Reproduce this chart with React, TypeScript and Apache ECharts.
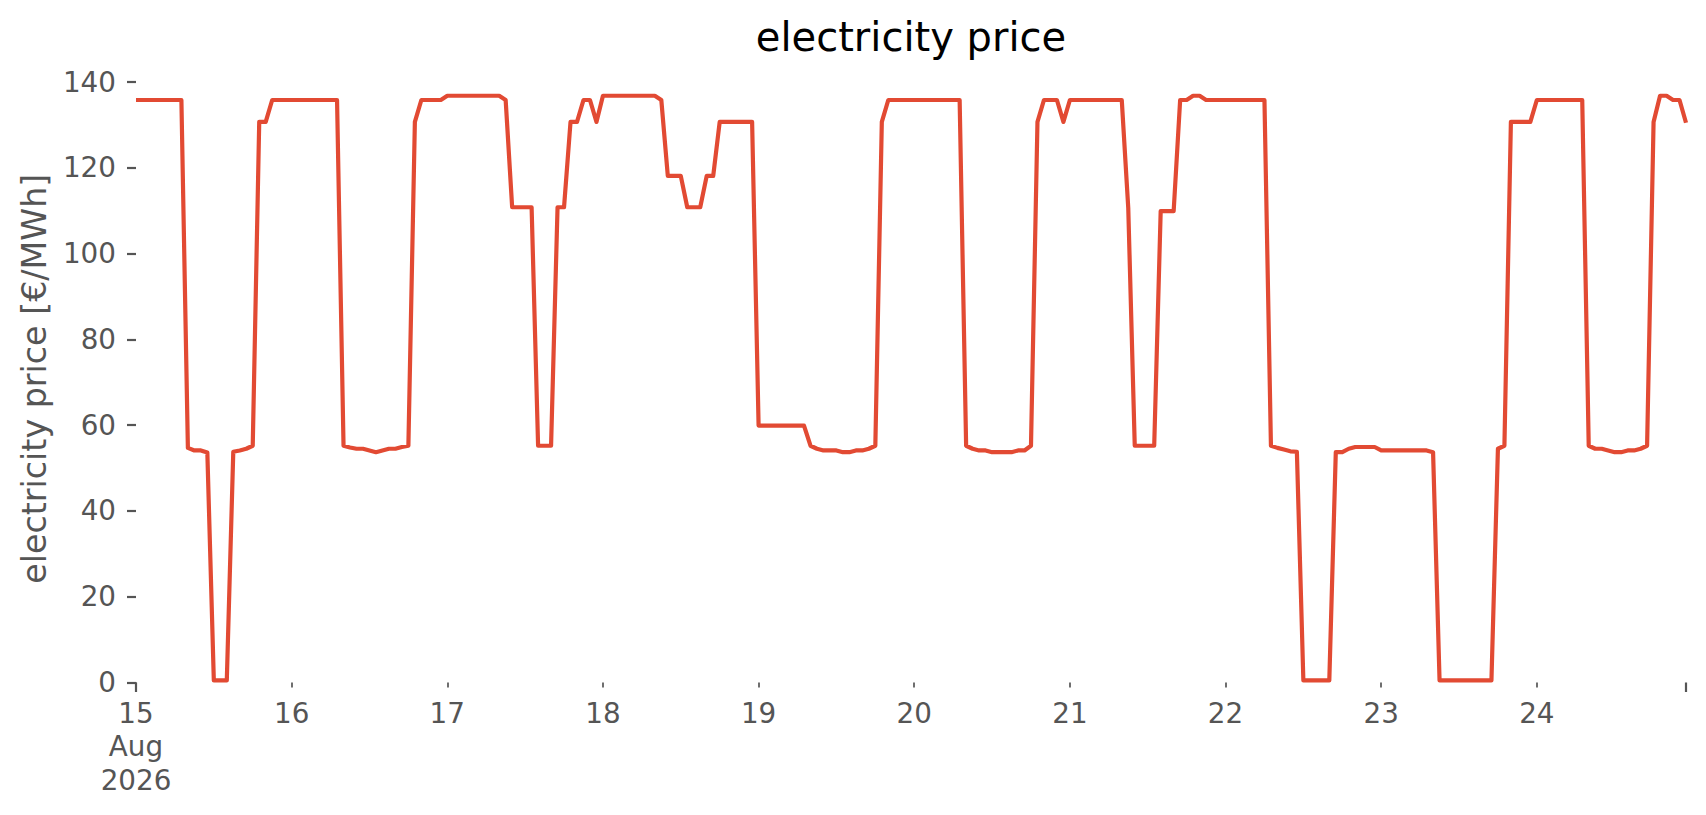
import React, { useEffect, useRef } from "react";
import * as echarts from "echarts";

// Hourly electricity price [€/MWh], one array per day (00:00 .. 23:00)
const aug15 = [135.8, 135.8, 135.8, 135.8, 135.8, 135.8, 135.8, 135.8, 54.7, 54.1, 54.1, 53.6, 0.5, 0.5, 0.5, 53.8, 54.1, 54.5, 55.2, 130.7, 130.7, 135.8, 135.8, 135.8];
const aug16 = [135.8, 135.8, 135.8, 135.8, 135.8, 135.8, 135.8, 135.8, 55.2, 54.8, 54.5, 54.5, 54.1, 53.7, 54.1, 54.5, 54.5, 54.9, 55.2, 130.7, 135.8, 135.8, 135.8, 135.8];
const aug17 = [136.8, 136.8, 136.8, 136.8, 136.8, 136.8, 136.8, 136.8, 136.8, 135.8, 110.8, 110.8, 110.8, 110.8, 55.2, 55.2, 55.2, 110.8, 110.8, 130.7, 130.7, 135.8, 135.8, 130.7];
const aug18 = [136.8, 136.8, 136.8, 136.8, 136.8, 136.8, 136.8, 136.8, 136.8, 135.8, 118.1, 118.1, 118.1, 110.8, 110.8, 110.8, 118.1, 118.1, 130.7, 130.7, 130.7, 130.7, 130.7, 130.7];
const aug19 = [59.9, 59.9, 59.9, 59.9, 59.9, 59.9, 59.9, 59.9, 55.2, 54.5, 54.1, 54.1, 54.1, 53.7, 53.7, 54.1, 54.1, 54.5, 55.2, 130.7, 135.8, 135.8, 135.8, 135.8];
const aug20 = [135.8, 135.8, 135.8, 135.8, 135.8, 135.8, 135.8, 135.8, 55.2, 54.5, 54.1, 54.1, 53.7, 53.7, 53.7, 53.7, 54.1, 54.1, 55.2, 130.7, 135.8, 135.8, 135.8, 130.7];
const aug21 = [135.8, 135.8, 135.8, 135.8, 135.8, 135.8, 135.8, 135.8, 135.8, 110.6, 55.2, 55.2, 55.2, 55.2, 109.9, 109.9, 109.9, 135.8, 135.8, 136.8, 136.8, 135.8, 135.8, 135.8];
const aug22 = [135.8, 135.8, 135.8, 135.8, 135.8, 135.8, 135.8, 55.2, 54.7, 54.3, 53.9, 53.8, 0.5, 0.5, 0.5, 0.5, 0.5, 53.7, 53.7, 54.5, 54.9, 54.9, 54.9, 54.9];
const aug23 = [54.1, 54.1, 54.1, 54.1, 54.1, 54.1, 54.1, 54.1, 53.7, 0.5, 0.5, 0.5, 0.5, 0.5, 0.5, 0.5, 0.5, 0.5, 54.5, 55.2, 130.7, 130.7, 130.7, 130.7];
const aug24 = [135.8, 135.8, 135.8, 135.8, 135.8, 135.8, 135.8, 135.8, 55.2, 54.5, 54.5, 54.1, 53.7, 53.7, 54.1, 54.1, 54.5, 55.2, 130.7, 136.8, 136.8, 135.8, 135.8, 130.5];

const days = ["2026-08-15", "2026-08-16", "2026-08-17", "2026-08-18", "2026-08-19", "2026-08-20", "2026-08-21", "2026-08-22", "2026-08-23", "2026-08-24"];
const hours = ["00", "01", "02", "03", "04", "05", "06", "07", "08", "09", "10", "11", "12", "13", "14", "15", "16", "17", "18", "19", "20", "21", "22", "23"];

const prices = [...aug15, ...aug16, ...aug17, ...aug18, ...aug19, ...aug20, ...aug21, ...aug22, ...aug23, ...aug24];
const times: string[] = [];
days.forEach((d) => hours.forEach((h) => times.push(`${d} ${h}:00`)));

const TITLE = "electricity price";
const YLABEL = "electricity price [€/MWh]";
const FONT = '"DejaVu Sans"';
const GRAY = "#555555";

export default function App() {
  const ref = useRef<HTMLDivElement>(null);
  useEffect(() => {
    if (!ref.current) return;
    const chart = echarts.init(ref.current, undefined, { renderer: "svg" });
    const dayLabel = (value: string, index: number) => {
      const d = String(parseInt(value.slice(8, 10), 10));
      return index === 0 ? `${d}\nAug\n2026` : d;
    };
    chart.setOption({
      animation: false,
      backgroundColor: "#ffffff",
      textStyle: { fontFamily: FONT },
      grid: { left: 136, right: 20, top: 82, bottom: 132.5, containLabel: false },
      xAxis: [
        {
          type: "category",
          data: times,
          boundaryGap: false,
          axisLine: { show: false },
          axisTick: {
            show: true,
            interval: (i: number) => i % 24 === 0,
            length: 5,
            lineStyle: { color: GRAY, width: 1.7 },
          },
          axisLabel: {
            show: true,
            interval: (i: number) => i % 24 === 0,
            formatter: dayLabel,
            fontFamily: FONT,
            fontSize: 27.8,
            lineHeight: 33.4,
            color: GRAY,
            margin: 14,
          },
          splitLine: { show: false },
        },
        {
          type: "category",
          data: times,
          boundaryGap: false,
          position: "bottom",
          axisLine: { show: false },
          axisTick: {
            show: true,
            interval: (i: number) => i === 0 || i === times.length - 1,
            length: 9.5,
            lineStyle: { color: GRAY, width: 2.2 },
          },
          axisLabel: { show: false },
          splitLine: { show: false },
        },
      ],
      yAxis: {
        type: "value",
        min: 0,
        max: 140,
        interval: 20,
        axisLine: { show: false },
        axisTick: { show: true, length: 9, lineStyle: { color: GRAY, width: 2.2 } },
        axisLabel: { fontFamily: FONT, fontSize: 27.8, color: GRAY, margin: 20 },
        splitLine: { show: false },
      },
      series: [
        {
          type: "line",
          xAxisIndex: 0,
          data: prices,
          symbol: "none",
          showSymbol: false,
          lineStyle: { color: "#E24A33", width: 4.2, join: "round" },
          itemStyle: { color: "#E24A33" },
        },
      ],
      graphic: [
        {
          type: "text",
          x: 911,
          y: 36.9,
          style: {
            text: TITLE,
            font: `40px ${FONT}`,
            fill: "#000000",
            align: "center",
            verticalAlign: "middle",
            textAlign: "center",
            textVerticalAlign: "middle",
          },
        },
        {
          type: "text",
          x: 34.5,
          y: 378.7,
          rotation: Math.PI / 2,
          style: {
            text: YLABEL,
            font: `33.3px ${FONT}`,
            fill: GRAY,
            align: "center",
            verticalAlign: "middle",
            textAlign: "center",
            textVerticalAlign: "middle",
          },
        },
      ],
    });
    return () => chart.dispose();
  }, []);
  return (
    <div
      ref={ref}
      style={{ position: "absolute", left: 0, top: 0, width: 1706, height: 815, background: "#fff" }}
    />
  );
}
